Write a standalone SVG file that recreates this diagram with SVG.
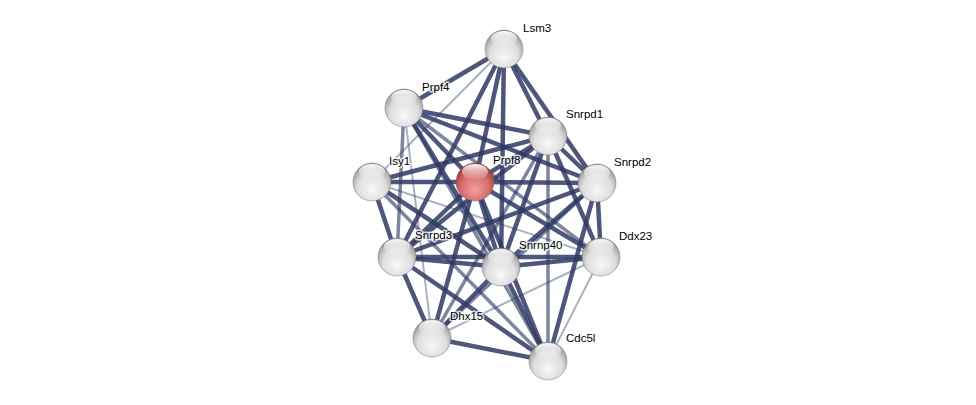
<svg xmlns="http://www.w3.org/2000/svg" width="976" height="405" viewBox="0 0 976 405">
<defs>
<radialGradient id="gw" cx="50%" cy="62%" r="58%" fx="50%" fy="72%">
<stop offset="0" stop-color="#f8f8f8"/>
<stop offset="0.65" stop-color="#dedede"/>
<stop offset="1" stop-color="#9c9c9c"/>
</radialGradient>
<radialGradient id="gr" cx="50%" cy="62%" r="58%" fx="50%" fy="72%">
<stop offset="0" stop-color="#f3a0a0"/>
<stop offset="0.65" stop-color="#d66c6c"/>
<stop offset="1" stop-color="#a03c3c"/>
</radialGradient>
<linearGradient id="hl" x1="0" y1="0" x2="0" y2="1">
<stop offset="0" stop-color="#fff" stop-opacity="0.95"/>
<stop offset="1" stop-color="#fff" stop-opacity="0"/>
</linearGradient>
</defs>
<style>
.e{stroke:#2f3a64;fill:none;stroke-linecap:butt}
.t{stroke-width:4.5;stroke-opacity:0.85}
.m{stroke-width:3.5;stroke-opacity:0.62}
.l{stroke-width:2;stroke-opacity:0.4}
.ring{stroke:#666;stroke-width:0.8;stroke-opacity:0.55}
.lbl{font-family:"Liberation Sans",Arial,sans-serif;font-size:11.5px;fill:#000;stroke:#fff;stroke-width:3px;stroke-opacity:0.8;stroke-linejoin:round;paint-order:stroke}
</style>
<rect width="976" height="405" fill="#fff"/>
<g id="connectors">
<line class="e t" x1="504" y1="49" x2="404" y2="108"/>
<line class="e l" x1="504" y1="49" x2="372" y2="182"/>
<line class="e t" x1="504" y1="49" x2="397" y2="257"/>
<line class="e t" x1="504" y1="49" x2="475" y2="182"/>
<line class="e t" x1="504" y1="49" x2="501" y2="267"/>
<line class="e t" x1="504" y1="49" x2="548" y2="136"/>
<line class="e t" x1="504" y1="49" x2="597" y2="183"/>
<line class="e t" x1="404" y1="108" x2="548" y2="136"/>
<line class="e t" x1="404" y1="108" x2="597" y2="183"/>
<line class="e m" x1="404" y1="108" x2="601" y2="257"/>
<line class="e t" x1="404" y1="108" x2="475" y2="182"/>
<line class="e m" x1="404" y1="108" x2="397" y2="257"/>
<line class="e l" x1="404" y1="108" x2="432" y2="338"/>
<line class="e t" x1="404" y1="108" x2="501" y2="267"/>
<line class="e m" x1="404" y1="108" x2="548" y2="361"/>
<line class="e t" x1="372" y1="182" x2="475" y2="182"/>
<line class="e t" x1="372" y1="182" x2="548" y2="136"/>
<line class="e t" x1="372" y1="182" x2="397" y2="257"/>
<line class="e t" x1="372" y1="182" x2="501" y2="267"/>
<line class="e m" x1="372" y1="182" x2="548" y2="361"/>
<line class="e l" x1="372" y1="182" x2="601" y2="257"/>
<line class="e t" x1="475" y1="182" x2="548" y2="136"/>
<line class="e t" x1="475" y1="182" x2="597" y2="183"/>
<line class="e t" x1="475" y1="182" x2="397" y2="257"/>
<line class="e t" x1="475" y1="182" x2="501" y2="267"/>
<line class="e t" x1="475" y1="182" x2="601" y2="257"/>
<line class="e t" x1="475" y1="182" x2="432" y2="338"/>
<line class="e t" x1="475" y1="182" x2="548" y2="361"/>
<line class="e t" x1="548" y1="136" x2="597" y2="183"/>
<line class="e t" x1="548" y1="136" x2="397" y2="257"/>
<line class="e t" x1="548" y1="136" x2="501" y2="267"/>
<line class="e t" x1="548" y1="136" x2="601" y2="257"/>
<line class="e m" x1="548" y1="136" x2="548" y2="361"/>
<line class="e m" x1="548" y1="136" x2="432" y2="338"/>
<line class="e t" x1="597" y1="183" x2="601" y2="257"/>
<line class="e t" x1="597" y1="183" x2="397" y2="257"/>
<line class="e t" x1="597" y1="183" x2="501" y2="267"/>
<line class="e t" x1="597" y1="183" x2="548" y2="361"/>
<line class="e m" x1="597" y1="183" x2="432" y2="338"/>
<line class="e t" x1="397" y1="257" x2="501" y2="267"/>
<line class="e t" x1="397" y1="257" x2="601" y2="257"/>
<line class="e t" x1="397" y1="257" x2="432" y2="338"/>
<line class="e t" x1="397" y1="257" x2="548" y2="361"/>
<line class="e t" x1="501" y1="267" x2="601" y2="257"/>
<line class="e t" x1="501" y1="267" x2="432" y2="338"/>
<line class="e t" x1="501" y1="267" x2="548" y2="361"/>
<line class="e l" x1="601" y1="257" x2="432" y2="338"/>
<line class="e l" x1="601" y1="257" x2="548" y2="361"/>
<line class="e t" x1="432" y1="338" x2="548" y2="361"/>
</g>
<g id="node-Lsm3"><circle cx="504" cy="49" r="19" fill="url(#gw)" class="ring"/><ellipse cx="504" cy="39" rx="13" ry="8" fill="url(#hl)"/><text class="lbl" x="523" y="32">Lsm3</text></g>
<g id="node-Prpf4"><circle cx="404" cy="108" r="19" fill="url(#gw)" class="ring"/><ellipse cx="404" cy="98" rx="13" ry="8" fill="url(#hl)"/><text class="lbl" x="422" y="91">Prpf4</text></g>
<g id="node-Snrpd1"><circle cx="548" cy="136" r="19" fill="url(#gw)" class="ring"/><ellipse cx="548" cy="126" rx="13" ry="8" fill="url(#hl)"/><text class="lbl" x="566" y="118">Snrpd1</text></g>
<g id="node-Isy1"><circle cx="372" cy="182" r="19" fill="url(#gw)" class="ring"/><ellipse cx="372" cy="172" rx="13" ry="8" fill="url(#hl)"/><text class="lbl" x="389" y="165">Isy1</text></g>
<g id="node-Prpf8"><circle cx="475" cy="182" r="19" fill="url(#gr)" class="ring"/><ellipse cx="475" cy="172" rx="13" ry="8" fill="url(#hl)"/><text class="lbl" x="493" y="164">Prpf8</text></g>
<g id="node-Snrpd2"><circle cx="597" cy="183" r="19" fill="url(#gw)" class="ring"/><ellipse cx="597" cy="173" rx="13" ry="8" fill="url(#hl)"/><text class="lbl" x="614" y="166">Snrpd2</text></g>
<g id="node-Snrpd3"><circle cx="397" cy="257" r="19" fill="url(#gw)" class="ring"/><ellipse cx="397" cy="247" rx="13" ry="8" fill="url(#hl)"/><text class="lbl" x="415" y="239">Snrpd3</text></g>
<g id="node-Snrnp40"><circle cx="501" cy="267" r="19" fill="url(#gw)" class="ring"/><ellipse cx="501" cy="257" rx="13" ry="8" fill="url(#hl)"/><text class="lbl" x="519" y="249">Snrnp40</text></g>
<g id="node-Ddx23"><circle cx="601" cy="257" r="19" fill="url(#gw)" class="ring"/><ellipse cx="601" cy="247" rx="13" ry="8" fill="url(#hl)"/><text class="lbl" x="619" y="240">Ddx23</text></g>
<g id="node-Dhx15"><circle cx="432" cy="338" r="19" fill="url(#gw)" class="ring"/><ellipse cx="432" cy="328" rx="13" ry="8" fill="url(#hl)"/><text class="lbl" x="450" y="320">Dhx15</text></g>
<g id="node-Cdc5l"><circle cx="548" cy="361" r="19" fill="url(#gw)" class="ring"/><ellipse cx="548" cy="351" rx="13" ry="8" fill="url(#hl)"/><text class="lbl" x="566" y="342">Cdc5l</text></g>
</svg>
